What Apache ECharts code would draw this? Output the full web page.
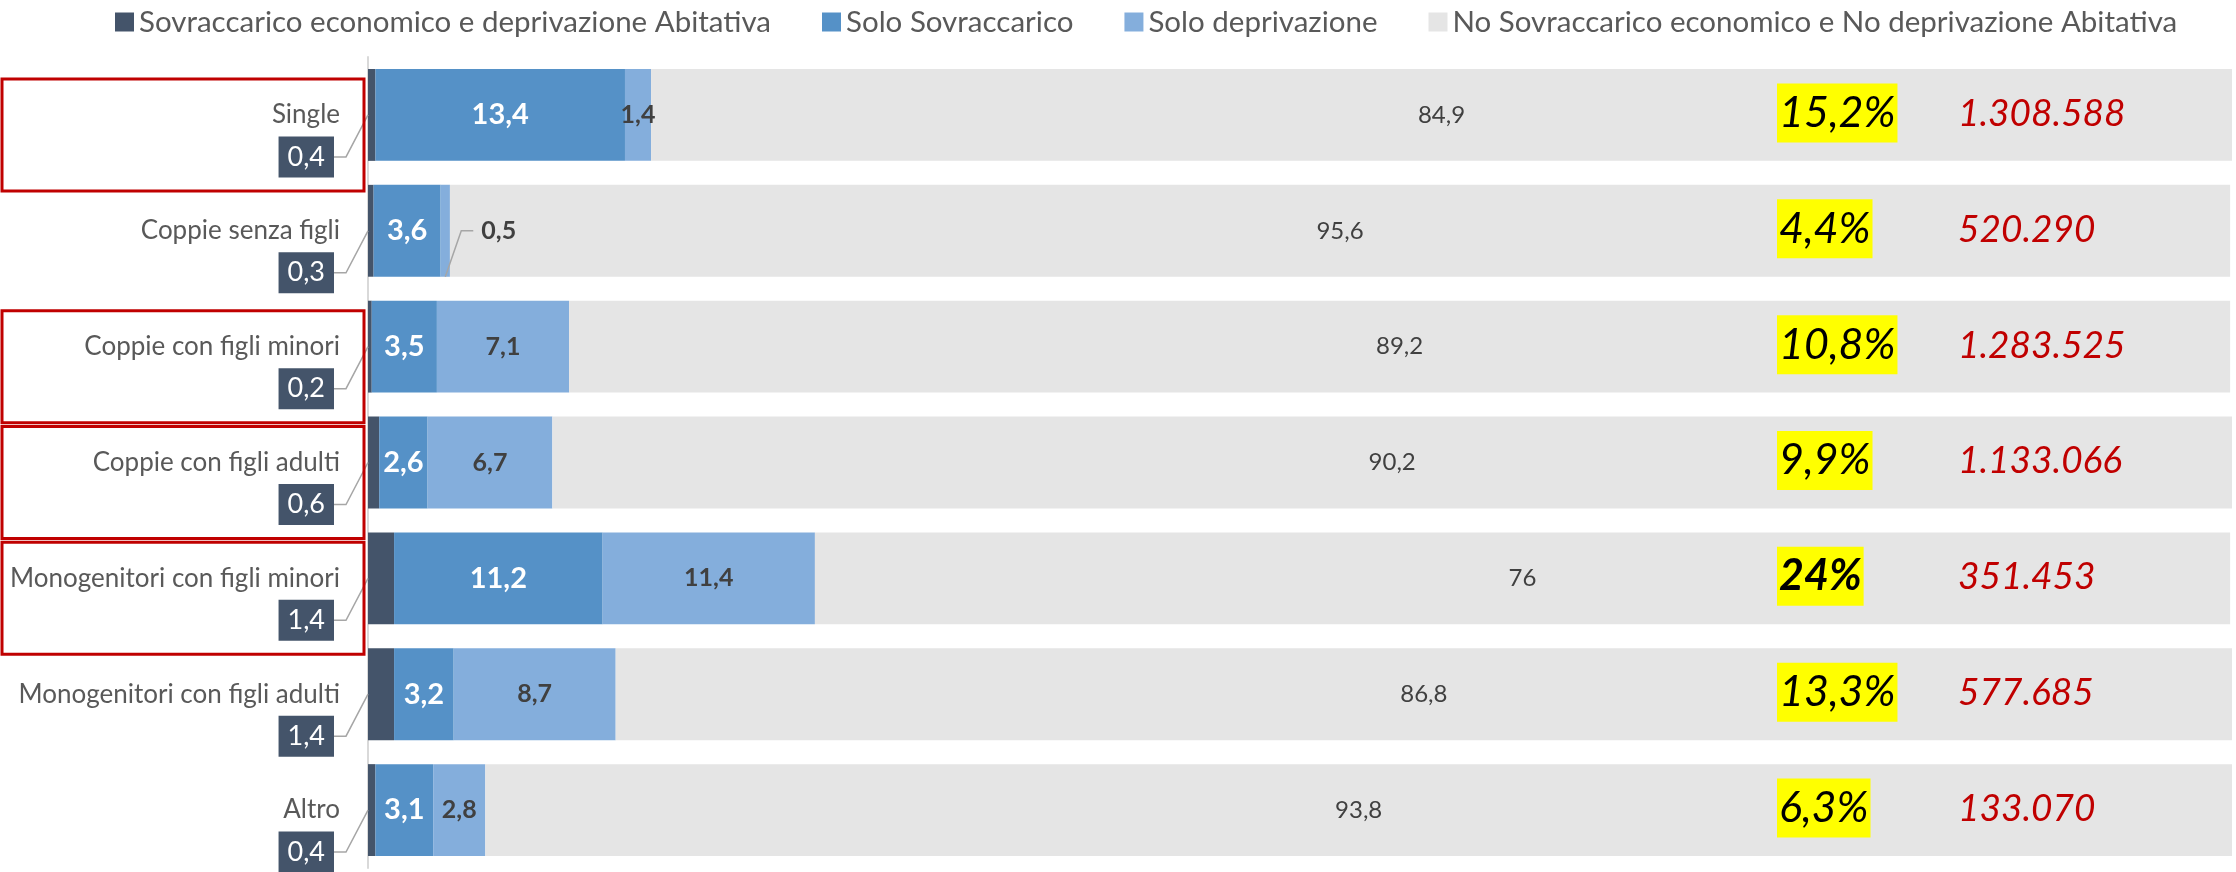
<!DOCTYPE html>
<html>
<head>
<meta charset="utf-8">
<script src="https://cdn.jsdelivr.net/npm/echarts@6/dist/echarts.min.js"></script>
<style>
  html, body { margin: 0; padding: 0; background: #ffffff; }
  #chart { width: 2236px; height: 872px; }
</style>
</head>
<body>
<div id="chart"></div>
<script>
// Household types
var categories = [
  'Single',
  'Coppie senza figli',
  'Coppie con figli minori',
  'Coppie con figli adulti',
  'Monogenitori con figli minori',
  'Monogenitori con figli adulti',
  'Altro'
];

var seriesNames = [
  'Sovraccarico economico e deprivazione Abitativa',
  'Solo Sovraccarico',
  'Solo deprivazione',
  'No Sovraccarico economico e No deprivazione Abitativa'
];

// Shares (%) per household type
var bothValues        = [0.4, 0.3, 0.2, 0.6, 1.4, 1.4, 0.4];
var overloadValues    = [13.4, 3.6, 3.5, 2.6, 11.2, 3.2, 3.1];
var deprivationValues = [1.4, 0.5, 7.1, 6.7, 11.4, 8.7, 2.8];
var neitherValues     = [84.9, 95.6, 89.2, 90.2, 76, 86.8, 93.8];

// Total hardship share and number of households per type
var hardshipShares  = [15.2, 4.4, 10.8, 9.9, 24, 13.3, 6.3];
var householdCounts = ['1.308.588', '520.290', '1.283.525', '1.133.066', '351.453', '577.685', '133.070'];

// Household types framed in red
var highlighted = ['Single', 'Coppie con figli minori', 'Coppie con figli adulti', 'Monogenitori con figli minori'];

var FONT = 'Lato, "Open Sans", sans-serif';
var GAP = 0.207;          // share of the category band left empty
var BOX_SHIFT_X = 34;     // callout box distance left of the axis
var BOX_SHIFT_Y = 42;     // callout box drop below the bar centre
var LEADER = '#A6A6A6';

function itNum(v) {
  return String(v).replace('.', ',');
}

var chart = echarts.init(document.getElementById('chart'), null, { renderer: 'canvas' });

var option = {
  backgroundColor: '#ffffff',
  animation: false,
  textStyle: { fontFamily: FONT },
  legend: {
    top: 2,
    left: 110,
    icon: 'rect',
    itemWidth: 19,
    itemHeight: 19,
    itemGap: 51,
    textStyle: { fontSize: 29.5, color: '#595959', fontFamily: FONT },
    data: seriesNames
  },
  grid: { left: 368, right: 4, top: 57, bottom: 4 },
  xAxis: {
    type: 'value',
    min: 0,
    max: 100.1,
    show: false
  },
  yAxis: {
    type: 'category',
    inverse: true,
    data: categories,
    axisLine: { show: true, lineStyle: { color: '#D9D9D9', width: 2 } },
    axisTick: { show: false },
    splitLine: { show: false },
    axisLabel: { margin: 28, fontSize: 26, color: '#595959', fontFamily: FONT }
  },
  series: [
    {
      name: seriesNames[0],
      type: 'bar',
      stack: 'tot',
      barCategoryGap: (GAP * 100) + '%',
      itemStyle: { color: '#44546A' },
      data: bothValues,
      label: {
        show: true,
        position: 'inside',
        formatter: function (p) { return itNum(p.value); },
        color: '#ffffff',
        fontSize: 27,
        fontFamily: FONT,
        backgroundColor: '#44546A',
        padding: [8, 9, 6, 9]
      },
      labelLayout: function (p) {
        var r = p.rect;
        return {
          x: r.x - BOX_SHIFT_X,
          y: r.y + r.height / 2 + BOX_SHIFT_Y,
          align: 'right',
          verticalAlign: 'middle'
        };
      }
    },
    {
      name: seriesNames[1],
      type: 'bar',
      stack: 'tot',
      itemStyle: { color: '#5591C7' },
      data: overloadValues,
      label: {
        show: true,
        position: 'inside',
        formatter: function (p) { return itNum(p.value); },
        color: '#ffffff',
        fontWeight: 'bold',
        fontSize: 29,
        fontFamily: FONT
      }
    },
    {
      name: seriesNames[2],
      type: 'bar',
      stack: 'tot',
      itemStyle: { color: '#84AEDC' },
      data: deprivationValues,
      label: {
        show: true,
        position: 'inside',
        formatter: function (p) { return itNum(p.value); },
        color: '#404040',
        fontWeight: 'bold',
        fontSize: 25,
        fontFamily: FONT
      },
      labelLayout: function (p) {
        // slices thinner than 1 point get their label moved to the right
        if (deprivationValues[p.dataIndex] >= 1) { return {}; }
        var r = p.rect;
        return {
          x: r.x + r.width / 2 + 36,
          y: r.y + r.height / 2,
          align: 'left',
          verticalAlign: 'middle'
        };
      }
    },
    {
      name: seriesNames[3],
      type: 'bar',
      stack: 'tot',
      itemStyle: { color: '#E5E5E5' },
      data: neitherValues,
      label: {
        show: true,
        position: 'inside',
        formatter: function (p) { return itNum(p.value); },
        color: '#404040',
        fontSize: 24,
        fontFamily: FONT
      }
    }
  ]
};

chart.setOption(option);

// Leader lines, red frames, yellow shares and red household counts
function drawAnnotations() {
  var axisX = chart.convertToPixel({ xAxisIndex: 0 }, 0);
  var band = chart.convertToPixel({ yAxisIndex: 0 }, categories[1]) -
             chart.convertToPixel({ yAxisIndex: 0 }, categories[0]);
  var barH = band * (1 - GAP);
  var maxShare = Math.max.apply(null, hardshipShares);
  var graphics = [];

  categories.forEach(function (cat, i) {
    var cy = chart.convertToPixel({ yAxisIndex: 0 }, cat);

    // leader from the dark callout box to the bar start
    var boxRight = axisX - BOX_SHIFT_X;
    var boxCy = cy + BOX_SHIFT_Y;
    graphics.push({
      type: 'polyline',
      z: 90,
      shape: { points: [[boxRight, boxCy], [boxRight + 12, boxCy], [axisX, cy]] },
      style: { stroke: LEADER, lineWidth: 1.5, fill: null }
    });

    // leader for thin "Solo deprivazione" slices
    if (deprivationValues[i] < 1) {
      var mid = chart.convertToPixel({ xAxisIndex: 0 },
        bothValues[i] + overloadValues[i] + deprivationValues[i] / 2);
      graphics.push({
        type: 'polyline',
        z: 90,
        shape: { points: [[mid, cy + barH / 2], [mid + 16, cy], [mid + 28, cy]] },
        style: { stroke: LEADER, lineWidth: 1.5, fill: null }
      });
    }

    if (highlighted.indexOf(cat) >= 0) {
      graphics.push({
        type: 'rect',
        z: 100,
        shape: { x: 2, y: cy - 36, width: axisX - 6, height: 112 },
        style: { fill: 'none', stroke: '#C00000', lineWidth: 3 }
      });
    }

    var share = hardshipShares[i];
    graphics.push({
      type: 'text',
      z: 100,
      x: 1777,
      y: cy - 2,
      style: {
        text: itNum(share) + '%',
        fill: '#000000',
        font: 'italic ' + (share === maxShare ? 'bold ' : '') + '43px ' + FONT,
        backgroundColor: '#FFFF00',
        padding: [9, 2, 7, 2],
        align: 'left',
        verticalAlign: 'middle'
      }
    });

    graphics.push({
      type: 'text',
      z: 100,
      x: 1958,
      y: cy - 1,
      style: {
        text: householdCounts[i],
        fill: '#C00000',
        font: 'italic 37px ' + FONT,
        align: 'left',
        verticalAlign: 'middle'
      }
    });
  });

  chart.setOption({ graphic: graphics });
}

drawAnnotations();
</script>
</body>
</html>
